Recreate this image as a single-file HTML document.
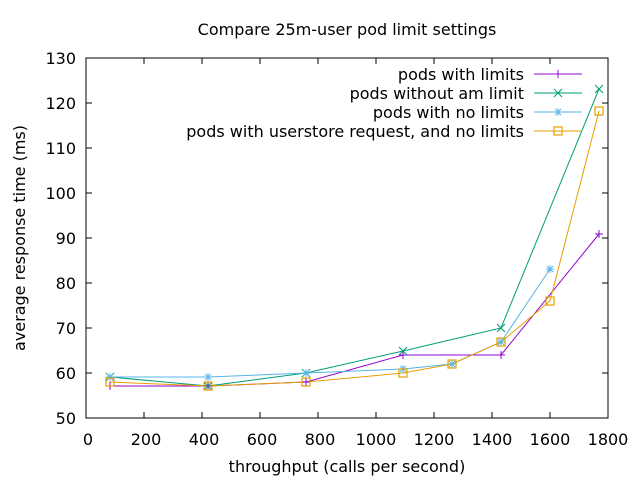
<!DOCTYPE html>
<html><head><meta charset="utf-8"><style>body{margin:0;background:#fff}svg{display:block}text{font-family:"DejaVu Sans",sans-serif;font-size:16px;fill:#000}</style></head><body>
<svg width="640" height="480" xmlns="http://www.w3.org/2000/svg">
<defs>
<g id="mp"><path d="M-4 0H4M0 -4V4" stroke-width="1"/></g>
<g id="mx"><path d="M-4 -4L4 4M-4 4L4 -4" stroke-width="1"/></g>
<g id="ms"><path d="M-4 0H4M0 -4V4M-3 -3L3 3M-3 3L3 -3" stroke-width="1"/></g>
<g id="mb"><rect x="-4" y="-4" width="8" height="8" fill="none" stroke-width="1.2"/></g>
</defs>
<text x="347" y="35" text-anchor="middle">Compare 25m-user pod limit settings</text>
<g stroke="#000" stroke-width="1">
<path d="M86 58V418H608V58Z" fill="none"/>
<path d="M86 373h6M86 328h6M86 283h6M86 238h6M86 193h6M86 148h6M86 103h6M608 373h-6M608 328h-6M608 283h-6M608 238h-6M608 193h-6M608 148h-6M608 103h-6"/>
<path d="M144 418v-6M202 418v-6M260 418v-6M318 418v-6M376 418v-6M434 418v-6M492 418v-6M550 418v-6M144 58v6M202 58v6M260 58v6M318 58v6M376 58v6M434 58v6M492 58v6M550 58v6"/>
</g>
<g text-anchor="end">
<text x="76" y="424">50</text><text x="76" y="379">60</text><text x="76" y="334">70</text><text x="76" y="289">80</text><text x="76" y="244">90</text><text x="76" y="199">100</text><text x="76" y="154">110</text><text x="76" y="109">120</text><text x="76" y="64">130</text>
</g>
<g text-anchor="middle">
<text x="88" y="445">0</text><text x="146" y="445">200</text><text x="204" y="445">400</text><text x="262" y="445">600</text><text x="320" y="445">800</text><text x="376" y="445">1000</text><text x="434" y="445">1200</text><text x="492" y="445">1400</text><text x="550" y="445">1600</text><text x="608" y="445">1800</text>
<text x="347" y="472">throughput (calls per second)</text>
<text transform="translate(25,238) rotate(-90)">average response time (ms)</text>
</g>
<g fill="none" stroke-width="1">
<polyline stroke="#9400d3" points="110,386 208,386 306,382 403,355 501,355 599,234"/>
<polyline stroke="#009e73" points="110,377 208,386 306,373 403,351 501,328 599,89"/>
<polyline stroke="#56b4e9" points="110,377 208,377 306,373 403,369 452,364 501,342 550,269"/>
<polyline stroke="#e69f00" points="110,382 208,386 306,382 403,373 452,364 501,342 550,301 599,111"/>
</g>
<g stroke="#9400d3"><use href="#mp" x="110" y="386"/><use href="#mp" x="208" y="386"/><use href="#mp" x="306" y="382"/><use href="#mp" x="403" y="355"/><use href="#mp" x="501" y="355"/><use href="#mp" x="599" y="234"/></g>
<g stroke="#009e73"><use href="#mx" x="110" y="377"/><use href="#mx" x="208" y="386"/><use href="#mx" x="306" y="373"/><use href="#mx" x="403" y="351"/><use href="#mx" x="501" y="328"/><use href="#mx" x="599" y="89"/></g>
<g stroke="#56b4e9"><use href="#ms" x="110" y="377"/><use href="#ms" x="208" y="377"/><use href="#ms" x="306" y="373"/><use href="#ms" x="403" y="369"/><use href="#ms" x="452" y="364"/><use href="#ms" x="501" y="342"/><use href="#ms" x="550" y="269"/></g>
<g stroke="#e69f00"><use href="#mb" x="110" y="382"/><use href="#mb" x="208" y="386"/><use href="#mb" x="306" y="382"/><use href="#mb" x="403" y="373"/><use href="#mb" x="452" y="364"/><use href="#mb" x="501" y="342"/><use href="#mb" x="550" y="301"/><use href="#mb" x="599" y="111"/></g>
<g text-anchor="end">
<text x="524" y="80">pods with limits</text>
<text x="524" y="99">pods without am limit</text>
<text x="524" y="118">pods with no limits</text>
<text x="524" y="137">pods with userstore request, and no limits</text>
</g>
<path d="M534 74H582" stroke="#9400d3"/><use href="#mp" x="558" y="74" stroke="#9400d3"/>
<path d="M534 93H582" stroke="#009e73"/><use href="#mx" x="558" y="93" stroke="#009e73"/>
<path d="M534 112H582" stroke="#56b4e9"/><use href="#ms" x="558" y="112" stroke="#56b4e9"/>
<path d="M534 131H582" stroke="#e69f00"/><use href="#mb" x="558" y="131" stroke="#e69f00"/>
</svg>
</body></html>
